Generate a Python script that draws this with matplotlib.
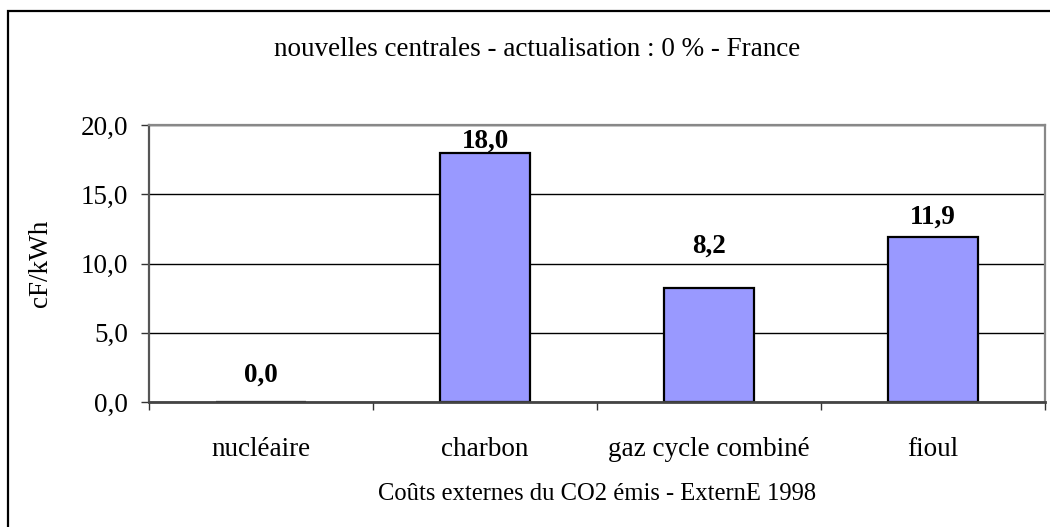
import matplotlib
matplotlib.use('Agg')
import matplotlib.pyplot as plt
from matplotlib.patches import Rectangle
import numpy as np

plt.rcParams['font.family'] = ['Liberation Serif', 'DejaVu Serif']

# data
categories = ['nucléaire', 'charbon', 'gaz cycle combiné', 'fioul']
values = [0.0, 18.0, 8.2, 11.9]
yticks = [0, 5, 10, 15, 20]
title = 'nouvelles centrales - actualisation : 0 % - France'
xlabel = 'Coûts externes du CO2 émis - ExternE 1998'
ylabel = 'cF/kWh'

# label offsets above bar tops (pixels), as in the source
label_pad = [20, 5, 36, 14]

W, H = 1050, 527
fig = plt.figure(figsize=(W / 100, H / 100), dpi=100)

# outer frame (cropped on right and bottom)
fig.patches.append(Rectangle((8 / W, -0.1), 1.2, 1 - 11 / H + 0.1,
                             transform=fig.transFigure, fill=False,
                             edgecolor='#000000', linewidth=1.6))

ax = fig.add_axes([149 / W, 1 - 402 / H, (1045 - 149) / W, (402 - 125) / H])

x = np.arange(len(categories))
ax.bar(x, values, width=0.4, color='#9999FF', edgecolor='black', linewidth=1.6, zorder=2)

ax.set_xlim(-0.5, len(categories) - 0.5)
ax.set_ylim(0, 20)
ax.set_yticks(yticks)
ax.set_yticklabels([('%.1f' % v).replace('.', ',') for v in yticks], fontsize=19.5)
ax.yaxis.grid(True, color='black', linewidth=1.0, zorder=0)
ax.set_axisbelow(True)
ax.tick_params(axis='y', length=6, width=1.0, pad=9, color='#333333')

# category boundaries as major ticks, names on minor ticks
ax.set_xticks(np.arange(len(categories) + 1) - 0.5)
ax.set_xticklabels([])
ax.set_xticks(x, minor=True)
ax.set_xticklabels(categories, minor=True, fontsize=19.5)
ax.tick_params(axis='x', which='major', length=6, width=1.0, color='#333333')
ax.tick_params(axis='x', which='minor', length=0, pad=25)

for s in ['top', 'right']:
    ax.spines[s].set_color('#888888')
    ax.spines[s].set_linewidth(1.6)
ax.spines['left'].set_color('#555555')
ax.spines['left'].set_linewidth(1.6)
ax.spines['bottom'].set_color('#444444')
ax.spines['bottom'].set_linewidth(2.0)
ax.spines['bottom'].set_zorder(4)

for xi, v, p in zip(x, values, label_pad):
    ax.annotate(('%.1f' % v).replace('.', ','), (xi, v), xytext=(0, p * 0.72),
                textcoords='offset points', ha='center', va='baseline',
                fontsize=19.5, fontweight='bold', zorder=5)

fig.text(537 / W, 1 - 50 / H, title, ha='center', va='center', fontsize=19.5)
fig.text(597 / W, 1 - 494 / H, xlabel, ha='center', va='center', fontsize=17.7)
fig.text(40 / W, 1 - 263 / H, ylabel, ha='center', va='center', rotation=90, fontsize=19.5)

fig.savefig('out.png', dpi=100)
